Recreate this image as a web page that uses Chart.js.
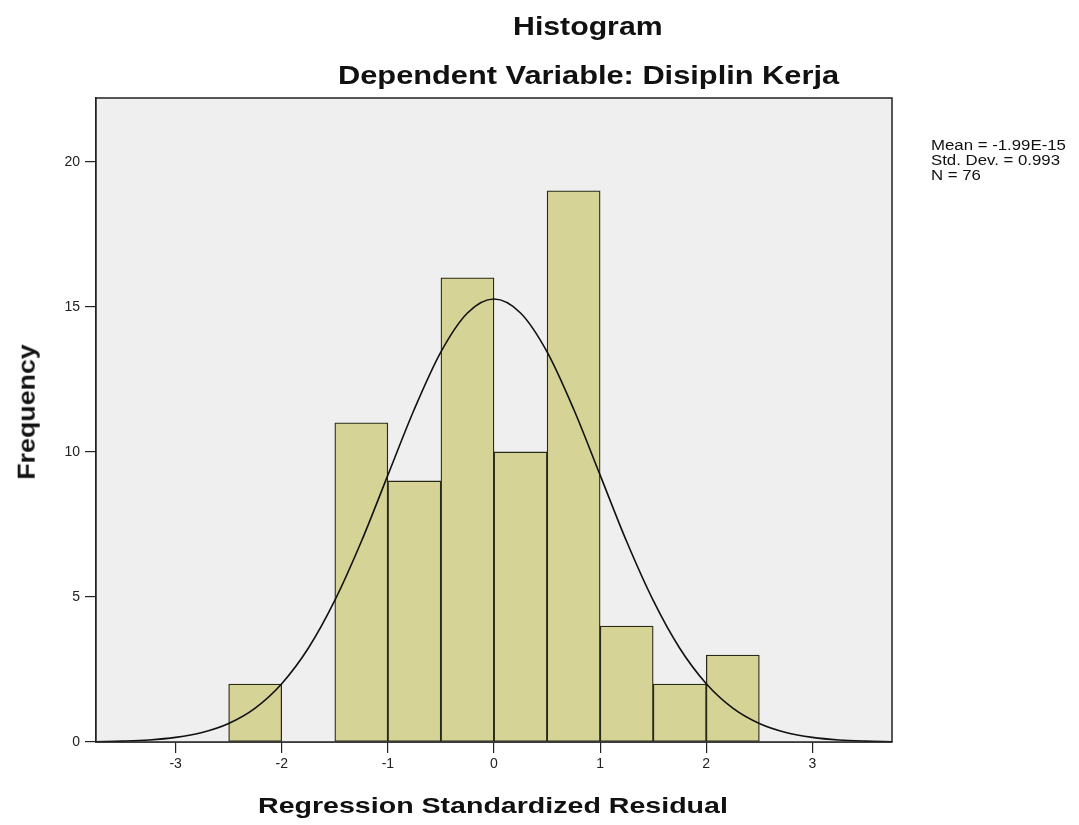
<!DOCTYPE html>
<html>
<head>
<meta charset="utf-8">
<script src="https://cdn.jsdelivr.net/npm/chart.js@4.4.1/dist/chart.umd.min.js"></script>
<style>
  html, body { margin:0; padding:0; background:#ffffff; }
  #wrap { position:relative; width:1079px; height:825px; overflow:hidden; }
  #c { position:absolute; left:0; top:0; }
  .t { position:absolute; white-space:nowrap; font-family:"Liberation Sans", Arial, sans-serif; color:#111; line-height:1; }
  .b { font-weight:bold; }
</style>
</head>
<body>
<div id="wrap">
  <canvas id="c" width="1079" height="825"></canvas>
  <div class="t b" id="title1" style="font-size:25px;">Histogram</div>
  <div class="t b" id="title2" style="font-size:25px;">Dependent Variable: Disiplin Kerja</div>
  <div class="t b" id="xtitle" style="font-size:22px;">Regression Standardized Residual</div>
  <div class="t b" id="ytitle" style="font-size:24px;">Frequency</div>
  <div class="t" id="stats" style="font-size:14px; line-height:15px;">Mean = -1.99E-15<br>Std. Dev. = 0.993<br>N = 76</div>
</div>
<script>
// ---- data ----
const binCenters = [-2.25, -1.75, -1.25, -0.75, -0.25, 0.25, 0.75, 1.25, 1.75, 2.25];
const frequencies = [2, 0, 11, 9, 16, 10, 19, 4, 2, 3];
const curveX = [-3.75,-3.5,-3.25,-3,-2.75,-2.5,-2.25,-2,-1.75,-1.5,-1.25,-1,-0.75,-0.5,-0.25,0,
                0.25,0.5,0.75,1,1.25,1.5,1.75,2,2.25,2.5,2.75,3,3.25,3.5,3.75];
const curveY = [0.01,0.03,0.07,0.16,0.33,0.64,1.17,2.01,3.23,4.88,6.91,9.20,11.48,13.45,14.79,15.27,
                14.79,13.45,11.48,9.20,6.91,4.88,3.23,2.01,1.17,0.64,0.33,0.16,0.07,0.03,0.01];
const xTickValues = [-3, -2, -1, 0, 1, 2, 3];
const yTickValues = [0, 5, 10, 15, 20];

// ---- text placement (fit to measured widths) ----
function place(id, cx, cy, target, vertical) {
  const el = document.getElementById(id);
  const w = el.offsetWidth, h = el.offsetHeight;
  const s = target / w;
  el.style.left = (cx - w / 2) + 'px';
  el.style.top = (cy - h / 2) + 'px';
  el.style.transformOrigin = '50% 50%';
  el.style.transform = vertical ? ('rotate(-90deg) scaleX(' + s + ')') : ('scaleX(' + s + ')');
}
place('title1', 588, 26, 150, false);
place('title2', 588, 75, 501, false);
place('xtitle', 493, 806, 470, false);
place('ytitle', 26, 412, 135, true);
(function(){
  const el = document.getElementById('stats');
  el.style.left = '931px'; el.style.top = '138px';
  el.style.transformOrigin = '0 0';
  el.style.transform = 'scaleX(1.2)';
})();

const frame = {
  id: 'frame',
  beforeDatasetsDraw(chart) {
    const a = chart.chartArea, ctx = chart.ctx;
    ctx.save();
    ctx.fillStyle = '#efefef';
    ctx.fillRect(a.left, a.top, a.right - a.left, a.bottom - a.top);
    ctx.restore();
  },
  afterDraw(chart) {
    const a = chart.chartArea, ctx = chart.ctx;
    ctx.save();
    ctx.strokeStyle = '#222';
    ctx.lineWidth = 1.5;
    ctx.strokeRect(a.left, a.top, a.right - a.left, a.bottom - a.top);
    ctx.restore();
  }
};

new Chart(document.getElementById('c'), {
  type: 'bar',
  data: {
    datasets: [
      {
        type: 'line',
        data: curveX.map((x, i) => ({ x: x, y: curveY[i] })),
        borderColor: '#111',
        borderWidth: 1.6,
        pointRadius: 0,
        cubicInterpolationMode: 'monotone',
        fill: false,
        order: 0
      },
      {
        type: 'bar',
        data: binCenters.map((x, i) => ({ x: x, y: frequencies[i] })),
        backgroundColor: '#d5d396',
        borderColor: '#2a2a1a',
        borderWidth: 1.3,
        borderSkipped: false,
        barPercentage: 1,
        categoryPercentage: 1,
        order: 1
      }
    ]
  },
  options: {
    responsive: false,
    animation: false,
    events: [],
    layout: { padding: { top: 98, right: 187, bottom: 0, left: 0 } },
    plugins: { legend: { display: false }, tooltip: { enabled: false }, title: { display: false } },
    scales: {
      x: {
        type: 'linear',
        min: -3.75, max: 3.75,
        offset: false,
        afterFit: s => { s.height = 83; },
        afterBuildTicks: s => { s.ticks = xTickValues.map(v => ({ value: v })); },
        grid: { offset: false, drawOnChartArea: false, drawTicks: true, tickLength: 11, color: '#222', lineWidth: 1.2 },
        border: { display: true, color: '#222', width: 1.5 },
        ticks: { color: '#222', font: { family: 'Liberation Sans', size: 14 }, padding: 3, maxRotation: 0 }
      },
      y: {
        type: 'linear',
        min: 0, max: 22.2,
        afterFit: s => { s.width = 96; },
        afterBuildTicks: s => { s.ticks = yTickValues.map(v => ({ value: v })); },
        grid: { drawOnChartArea: false, drawTicks: true, tickLength: 11, color: '#222', lineWidth: 1.2 },
        border: { display: true, color: '#222', width: 1.5 },
        ticks: { color: '#222', font: { family: 'Liberation Sans', size: 14 }, padding: 5 }
      }
    }
  },
  plugins: [frame]
});
</script>
</body>
</html>
